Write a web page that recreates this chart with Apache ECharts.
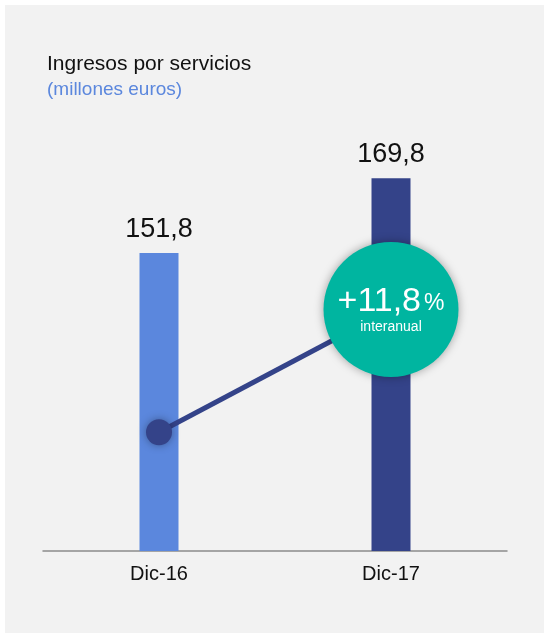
<!DOCTYPE html>
<html>
<head>
<meta charset="utf-8">
<script src="https://cdn.jsdelivr.net/npm/echarts@6/dist/echarts.min.js"></script>
<style>
  html, body { margin: 0; padding: 0; background: #fff; }
  #chart { position: absolute; left: 5px; top: 5px; width: 539px; height: 628px; background: #f2f2f2; }
</style>
</head>
<body>
<div id="chart"></div>
<script>
// datos
const categories = ['Dic-16', 'Dic-17']
const ingresos = [151.8, 169.8]
const barColors = ['#5b87dd', '#344389']
// linea decorativa: punto y circulo de variacion
const trendPoints = [108.6, 138.2]
const variacion = '+11,8'

const font = "'Liberation Sans', Arial, sans-serif"

const myChart = echarts.init(document.getElementById('chart'))

const option = {
  animation: false,
  textStyle: { fontFamily: font },
  title: {
    text: 'Ingresos por servicios',
    subtext: '(millones euros)',
    left: 37,
    top: 44,
    itemGap: 5,
    textStyle: { fontFamily: font, fontSize: 21, fontWeight: 'normal', color: '#111', lineHeight: 21 },
    subtextStyle: { fontFamily: font, fontSize: 19, color: '#5b87dd', lineHeight: 19 }
  },
  grid: { left: 38, right: 37, top: 48, bottom: 82 },
  xAxis: {
    type: 'category',
    data: categories,
    axisLine: { lineStyle: { color: '#8c8c8c', width: 1.5 } },
    axisTick: { show: false },
    axisLabel: { color: '#111', fontSize: 20, margin: 13, fontFamily: font }
  },
  yAxis: {
    type: 'value',
    min: 80,
    max: 200,
    show: false
  },
  series: [
    {
      type: 'bar',
      barWidth: 39,
      data: ingresos.map((v, i) => ({ value: v, itemStyle: { color: barColors[i] } })),
      label: {
        show: true,
        position: 'top',
        distance: 10,
        fontSize: 27,
        color: '#111',
        fontFamily: font,
        formatter: p => String(p.value).replace('.', ',')
      }
    },
    {
      type: 'line',
      data: trendPoints.map((v, i) => {
        if (i === 0) {
          return {
            value: v,
            symbolSize: 26,
            itemStyle: { color: '#344389', shadowColor: 'rgba(0,0,0,0.35)', shadowBlur: 8 }
          }
        }
        return {
          value: v,
          symbolSize: 135,
          itemStyle: { color: '#00b5a0', shadowColor: 'rgba(0,0,0,0.35)', shadowBlur: 10 },
          label: {
            show: true,
            position: 'inside',
            formatter: '{big|' + variacion + '}{pct|%}\n{small|interanual}',
            rich: {
              big: { fontSize: 34, color: '#fff', fontFamily: font, lineHeight: 36 },
              pct: { fontSize: 23, color: '#fff', fontFamily: font, lineHeight: 36, padding: [5, 0, 0, 3] },
              small: { fontSize: 14, color: '#fff', fontFamily: font, lineHeight: 16, align: 'center' }
            }
          }
        }
      }),
      symbol: 'circle',
      lineStyle: { color: '#344389', width: 5 },
      z: 5
    }
  ]
}

myChart.setOption(option)
</script>
</body>
</html>
